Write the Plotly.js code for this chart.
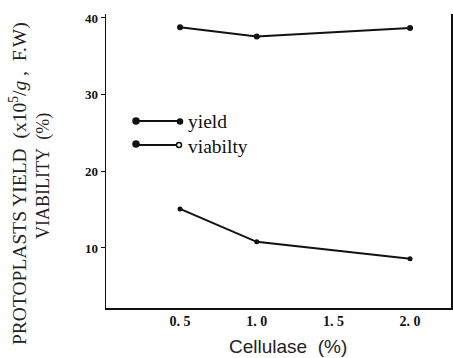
<!DOCTYPE html>
<html><head><meta charset="utf-8">
<script src="https://cdn.plot.ly/plotly-3.0.1.min.js"></script>
<style>html,body{margin:0;padding:0;background:#fff}</style>
</head><body>
<div id="chart" style="width:453px;height:358px"></div>
<script>
const cellulase = [0.5, 1.0, 2.0];
const viability = [38.8, 37.6, 38.7];
const yieldVals = [15.1, 10.8, 8.6];
const xTickVals = [0.5, 1.0, 1.5, 2.0];
const xTickText = ['0. 5', '1. 0', '1. 5', '2. 0'];
const yTickVals = [10, 20, 30, 40];
const legendNames = ['yield', 'viabilty'];

const W = 345, H = 294, L = 106, T = 14;
const px = v => (v - L) / W;
const py = v => (T + H - v) / H;

const traces = [
  {x: cellulase, y: viability, mode: 'lines+markers', line: {color: '#111', width: 2},
   marker: {color: '#111', size: 6}, showlegend: false},
  {x: cellulase, y: yieldVals, mode: 'lines+markers', line: {color: '#111', width: 2},
   marker: {color: '#111', size: 5}, showlegend: false}
];

function circ(cx, cy, r, filled) {
  return {type: 'circle', xref: 'paper', yref: 'paper', xsizemode: 'pixel', ysizemode: 'pixel',
    xanchor: px(cx), yanchor: py(cy), x0: -r, x1: r, y0: -r, y1: r,
    line: {color: '#111', width: 1.5}, fillcolor: filled ? '#111' : '#fff'};
}
const shapes = [
  {type: 'line', xref: 'paper', yref: 'paper', x0: px(136), x1: px(180), y0: py(121), y1: py(121), line: {color: '#111', width: 2}},
  {type: 'line', xref: 'paper', yref: 'paper', x0: px(136), x1: px(180), y0: py(145), y1: py(145), line: {color: '#111', width: 2}},
  circ(136, 121, 3, true), circ(180, 121.5, 2.5, true),
  circ(136, 144, 3, true), circ(179, 145, 2.5, false)
];

const annotations = [
  {text: legendNames[0], xref: 'paper', yref: 'paper', x: px(186), y: py(122), xanchor: 'left', yanchor: 'middle', showarrow: false,
   font: {family: 'Liberation Serif', size: 19.5, color: '#111'}},
  {text: legendNames[1], xref: 'paper', yref: 'paper', x: px(186), y: py(146), xanchor: 'left', yanchor: 'middle', showarrow: false,
   font: {family: 'Liberation Serif', size: 19.5, color: '#111'}},
  {text: 'PROTOPLASTS YIELD  (x10<sup>5</sup>/<i>g</i> ,  F.W)', xref: 'paper', yref: 'paper', x: px(18), y: py(184), xanchor: 'center', yanchor: 'middle',
   textangle: -90, showarrow: false, font: {family: 'Liberation Serif', size: 19.5, color: '#222'}},
  {text: 'VIABILITY  (%)', xref: 'paper', yref: 'paper', x: px(44), y: py(176), xanchor: 'center', yanchor: 'middle',
   textangle: -90, showarrow: false, font: {family: 'Liberation Serif', size: 18, color: '#222'}},
  {text: 'Cellulase  (%)', xref: 'paper', yref: 'paper', x: px(288), y: py(346), xanchor: 'center', yanchor: 'middle',
   showarrow: false, font: {family: 'Liberation Sans', size: 19, color: '#222'}}
];

const layout = {
  width: 453, height: 358,
  margin: {l: L, r: 453 - L - W, t: T, b: 358 - T - H, pad: 0},
  paper_bgcolor: '#fff', plot_bgcolor: '#fff',
  showlegend: false,
  xaxis: {range: [0.017, 2.267], tickvals: xTickVals, ticktext: xTickText, ticks: '',
    showgrid: false, zeroline: false, showline: true, linecolor: '#111', linewidth: 1.5,
    tickfont: {family: 'Liberation Serif', size: 14, color: '#111', weight: 'bold'}},
  yaxis: {range: [2.17, 40.52], tickvals: yTickVals, ticks: 'outside', ticklen: 4, tickcolor: '#111',
    showgrid: false, zeroline: false, showline: true, mirror: true, linecolor: '#111', linewidth: 1.5,
    tickfont: {family: 'Liberation Serif', size: 13, color: '#111', weight: 'bold'}},
  shapes: shapes, annotations: annotations
};

Plotly.newPlot('chart', traces, layout, {displayModeBar: false, staticPlot: true});
</script>
</body></html>
